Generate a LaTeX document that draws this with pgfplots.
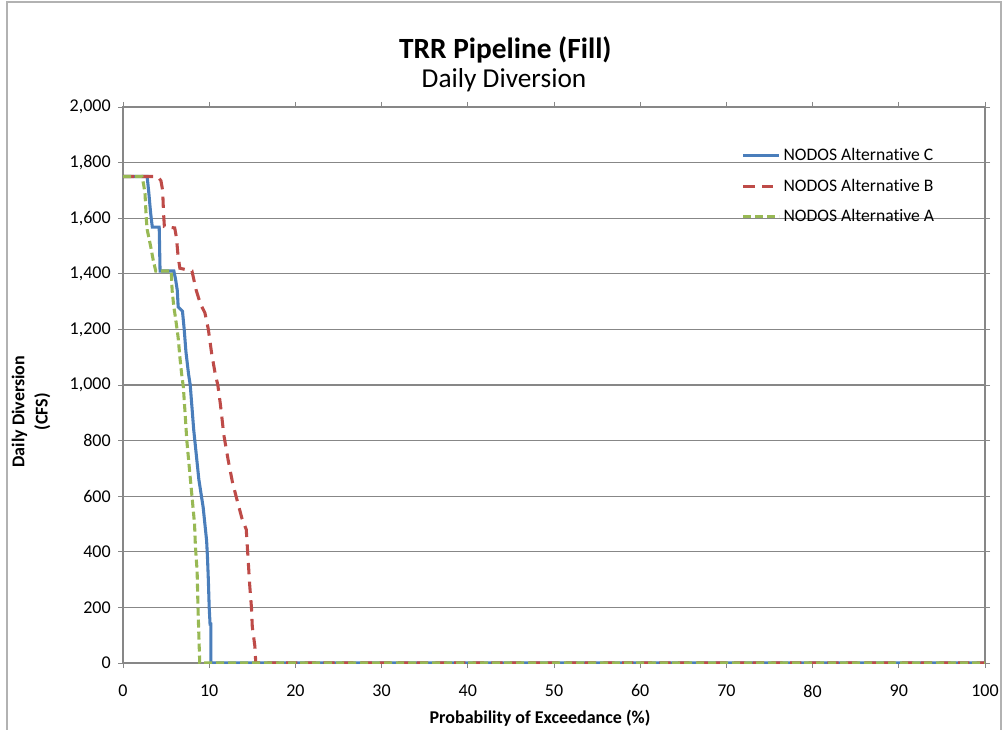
\documentclass[border=0pt]{standalone}
\usepackage{fontspec}
\setmainfont{Carlito}[Ligatures=NoCommon]
\usepackage{pgfplots}
\pgfplotsset{compat=1.18}
\definecolor{serC}{HTML}{4A7EBB}
\definecolor{serB}{HTML}{BE4B48}
\definecolor{serA}{HTML}{98B954}
\definecolor{gridg}{HTML}{878787}
\begin{document}
\begin{tikzpicture}
\useasboundingbox (0,0) rectangle (752.25pt,546.75pt);
\draw[gray!60, line width=0.8pt] (5.25pt,-2pt) -- (5.25pt,545.25pt) -- (750.75pt,545.25pt) -- (750.75pt,-2pt);
\begin{axis}[
  at={(92.25pt,49.5pt)}, anchor=south west,
  scale only axis, width=646.5pt, height=417pt,
  xmin=0, xmax=100, ymin=0, ymax=2000,
  xtick={0,10,...,100}, ytick={0,200,...,2000},
  tick align=outside, major tick length=3.75pt,
  tick style={gridg, line width=0.6pt},
  axis line style={gridg, line width=0.8pt},
  ymajorgrids, grid style={gridg, line width=0.8pt},
  /pgf/number format/assume math mode=true,
  /pgf/number format/1000 sep={,},
  scaled y ticks=false,
  ticklabel style={font=\fontsize{13.5}{16}\selectfont},
  yticklabel style={xshift=-2pt},
  xticklabel style={yshift=-9pt},
  legend style={draw=none, fill=none, at={(0.713,0.935)}, anchor=north west,
    font=\fontsize{13.2}{15}\selectfont, row sep=8pt,
    /tikz/every even column/.append style={column sep=0pt}},
  legend cell align=left,
  legend image code/.code={\draw[#1] (0pt,0pt) -- (27pt,0pt);},
]
\addplot[serC, line width=2.3pt] coordinates {
(0,1750) (2.8,1750) (3.0,1690) (3.2,1620) (3.4,1568) (4.2,1568) (4.3,1410) (5.9,1410)
(6.1,1380) (6.3,1340) (6.4,1281) (6.9,1265) (7.1,1200) (7.3,1120) (7.6,1040) (7.8,1000)
(8.0,920) (8.2,840) (8.4,780) (8.6,720) (8.8,660) (9.1,600) (9.3,560) (9.5,500)
(9.7,440) (9.8,380) (9.9,300) (10.0,200) (10.1,140) (10.2,140) (10.2,0) (100,0)};
\addlegendentry{NODOS Alternative C}
\addplot[serB, line width=2.3pt, dash pattern=on 8.5pt off 5.5pt] coordinates {
(0,1750) (4.0,1750) (4.4,1735) (4.6,1700) (4.7,1620) (4.8,1570) (6.0,1565) (6.2,1530)
(6.4,1460) (6.6,1420) (8.0,1410) (8.5,1340) (9.0,1290) (9.5,1260) (9.9,1200) (10.3,1110)
(10.7,1040) (11.0,1000) (11.3,930) (11.7,820) (12.2,730) (12.7,650) (13.2,590) (13.8,520)
(14.3,480) (14.5,380) (14.7,280) (14.9,200) (15.0,130) (15.3,60) (15.4,0) (100,0)};
\addlegendentry{NODOS Alternative B}
\addplot[serA, line width=2.3pt, dash pattern=on 6pt off 3pt] coordinates {
(0,1750) (2.2,1750) (2.4,1720) (2.55,1690) (2.7,1600) (2.8,1560) (3.2,1500) (3.5,1450)
(3.8,1410) (5.6,1410) (5.7,1340) (5.9,1280) (6.1,1240) (6.4,1170) (6.6,1100) (6.8,1040)
(7.0,993) (7.2,900) (7.4,802) (7.7,700) (8.0,600) (8.3,500) (8.4,420) (8.6,330)
(8.7,200) (8.8,100) (8.9,0) (100,0)};
\addlegendentry{NODOS Alternative A}
\end{axis}
\node[font=\bfseries\fontsize{22}{26}\selectfont, anchor=base] at (379pt,503pt) {TRR Pipeline (Fill)};
\node[font=\fontsize{20.5}{24}\selectfont, anchor=base] at (378pt,481pt) {Daily Diversion};
\node[font=\bfseries\fontsize{13.5}{16}\selectfont, anchor=base] at (405pt,4pt) {Probability of Exceedance (\%)};
\node[font=\bfseries\fontsize{13.5}{13.5}\selectfont, rotate=90, align=center] at (23.25pt,238pt) {Daily Diversion\\[4pt](CFS)};
\end{tikzpicture}
\end{document}
